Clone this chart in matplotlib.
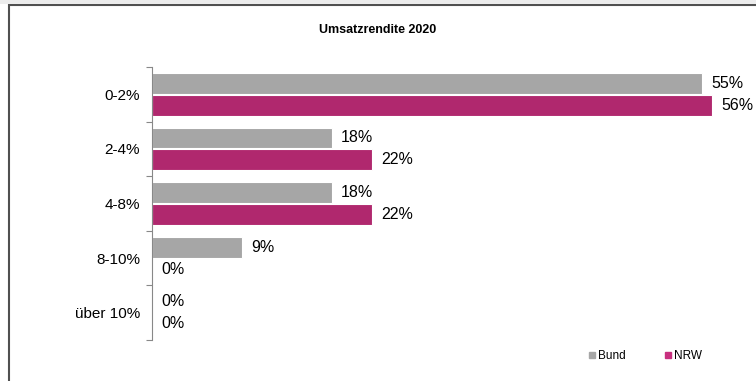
import numpy as np
import matplotlib.pyplot as plt
from matplotlib.patches import Rectangle
from matplotlib.lines import Line2D

# Data
categories = ['0-2%', '2-4%', '4-8%', '8-10%', 'über 10%']
bund = [55, 18, 18, 9, 0]
nrw = [56, 22, 22, 0, 0]

c_bund = '#a6a6a6'
c_nrw = '#b0286e'
c_nrw_leg = '#c8307f'

plt.rcParams['font.family'] = ['Liberation Sans', 'DejaVu Sans']

fig = plt.figure(figsize=(7.56, 3.81), dpi=100)

# figure frame (right/bottom edges run off the picture)
fig.patches.append(Rectangle((9 / 756, -0.05), 1.2, 1 - 5 / 381 + 0.05,
                             transform=fig.transFigure, fill=False,
                             edgecolor='#505050', linewidth=1.5))
fig.patches.append(Rectangle((0, 1 - 4 / 381), 1, 4 / 381,
                             transform=fig.transFigure, facecolor='#ececec',
                             edgecolor='none'))

ax = fig.add_axes([152 / 756, 1 - 340 / 381, 580 / 756, (340 - 67) / 381])

y = np.arange(len(categories))
h = 0.38
ax.barh(y - h / 2 - 0.01, bund, height=h, color=c_bund, edgecolor='white', linewidth=0.8)
ax.barh(y + h / 2 + 0.01, nrw, height=h, color=c_nrw, edgecolor='white', linewidth=0.8)

# value labels
for i in range(len(categories)):
    ax.annotate(f'{bund[i]}%', (bund[i], y[i] - h / 2 - 0.01), xytext=(6.5, 0),
                textcoords='offset points', va='center', ha='left', fontsize=11.5)
    ax.annotate(f'{nrw[i]}%', (nrw[i], y[i] + h / 2 + 0.01), xytext=(6.5, 0),
                textcoords='offset points', va='center', ha='left', fontsize=11.5)

ax.set_xlim(0, 58)
ax.set_ylim(len(categories) - 0.5, -0.5)
ax.set_xticks([])
ax.set_yticks(y)
ax.set_yticklabels(categories, fontsize=11)
ax.tick_params(axis='y', which='major', length=0, pad=8.5)
ax.set_yticks(np.arange(-0.5, len(categories)), minor=True)
ax.tick_params(axis='y', which='minor', length=4, color='#888888', width=0.8)
for s in ['top', 'right', 'bottom']:
    ax.spines[s].set_visible(False)
ax.spines['left'].set_color('#888888')
ax.spines['left'].set_linewidth(0.8)

fig.text(378 / 756, 1 - 30 / 381, 'Umsatzrendite 2020', ha='center', va='center',
         fontsize=9, fontweight='bold')

handles = [Line2D([], [], marker='s', linestyle='none', color=c_bund, markersize=3.8),
           Line2D([], [], marker='s', linestyle='none', color=c_nrw_leg, markersize=3.8)]
fig.legend(handles, ['Bund', 'NRW'], loc='center', bbox_to_anchor=(645 / 756, 1 - 356 / 381),
           ncol=2, frameon=False, fontsize=8.5, handletextpad=0.1, columnspacing=3.2,
           handlelength=0.8)

fig.savefig('out.png', dpi=100)
